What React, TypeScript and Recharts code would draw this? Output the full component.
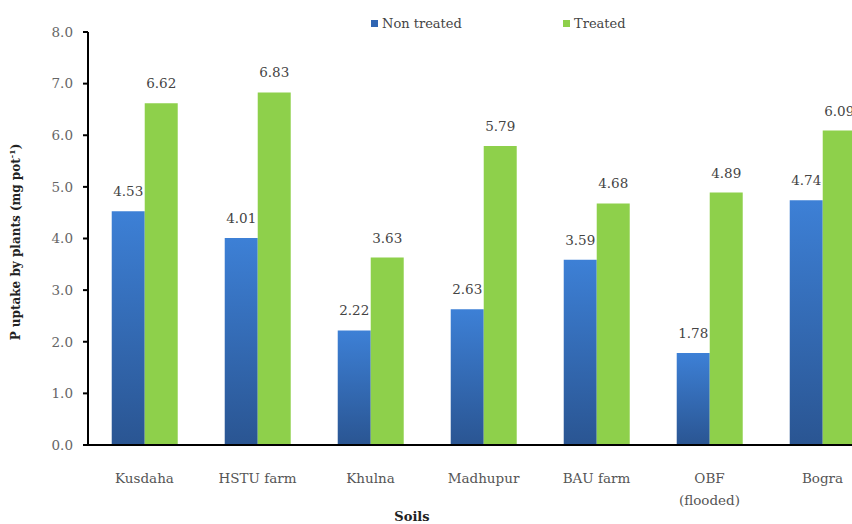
import { BarChart, Bar, XAxis, YAxis, Legend, LabelList } from "recharts";

const SOILS = ["Kusdaha", "HSTU farm", "Khulna", "Madhupur", "BAU farm", "OBF\n(flooded)", "Bogra"];
const NON_TREATED = [4.53, 4.01, 2.22, 2.63, 3.59, 1.78, 4.74];
const TREATED = [6.62, 6.83, 3.63, 5.79, 4.68, 4.89, 6.09];
const Y_TICKS = [0, 1, 2, 3, 4, 5, 6, 7, 8];

const data = SOILS.map((soil, i) => ({
  soil,
  nonTreated: NON_TREATED[i],
  treated: TREATED[i],
}));

const FONT = "'DejaVu Serif', 'Liberation Serif', serif";
const GREEN = "#8ed04b";

function SoilTick({ x, y, payload }: any) {
  const lines = String(payload.value).split("\n");
  return (
    <text x={x} y={y + 30} textAnchor="middle" fontFamily={FONT} fontSize={13.5} fill="#555">
      {lines.map((line, i) => (
        <tspan key={i} x={x} dy={i === 0 ? 0 : 22}>
          {line}
        </tspan>
      ))}
    </text>
  );
}

function YTitle() {
  return (
    <text
      x={20}
      y={242}
      transform="rotate(-90, 20, 242)"
      textAnchor="middle"
      fontFamily={FONT}
      fontSize={12}
      fontWeight="bold"
      fill="#222"
    >
      P uptake by plants (mg pot
      <tspan dy={-5} fontSize={8}>-1</tspan>
      <tspan dy={5}>)</tspan>
    </text>
  );
}

function XTitle() {
  return (
    <text x={412} y={521} textAnchor="middle" fontFamily={FONT} fontSize={13} fontWeight="bold" fill="#222">
      Soils
    </text>
  );
}

function LegendBox() {
  const item = (color: string, text: string, left: number) => (
    <div style={{ position: "absolute", left, top: 0, display: "flex", alignItems: "center", whiteSpace: "nowrap" }}>
      <span style={{ width: 7, height: 7, background: color, marginRight: 4, display: "inline-block" }} />
      <span style={{ fontFamily: FONT, fontSize: 13, color: "#444" }}>{text}</span>
    </div>
  );
  return (
    <div style={{ position: "relative", width: 300, height: 18 }}>
      {item("#2f65b3", "Non treated", 0)}
      {item(GREEN, "Treated", 192)}
    </div>
  );
}

export default function App() {
  return (
    <div style={{ position: "fixed", left: 0, top: 0, width: 852, height: 524, overflow: "hidden", background: "#fff" }}>
      <BarChart
        width={880}
        height={530}
        data={data}
        margin={{ top: 32, right: 1, left: 20, bottom: 25 }}
        barGap={0}
        barCategoryGap="21%"
      >
        <defs>
          <linearGradient id="blueBar" x1="0" y1="0" x2="0" y2="1">
            <stop offset="0%" stopColor="#3d80d6" />
            <stop offset="100%" stopColor="#2a5592" />
          </linearGradient>
        </defs>
        <Legend
          verticalAlign="middle"
          align="center"
          wrapperStyle={{ top: 16, left: 371, width: 300 }}
          content={() => <LegendBox />}
        />
        <XAxis
          dataKey="soil"
          height={60}
          tickLine={false}
          axisLine={{ stroke: "#000", strokeWidth: 2 }}
          tick={<SoilTick />}
          interval={0}
          label={{ content: () => <XTitle /> }}
        />
        <YAxis
          width={68}
          domain={[0, 8]}
          ticks={Y_TICKS}
          tickFormatter={(v: number) => v.toFixed(1)}
          axisLine={{ stroke: "#000", strokeWidth: 2 }}
          tickLine={{ stroke: "#000", strokeWidth: 2 }}
          tickSize={5}
          tickMargin={10}
          tick={{ fontFamily: FONT, fontSize: 13.5, fill: "#666" }}
          label={{ content: () => <YTitle /> }}
        />
        <Bar dataKey="nonTreated" name="Non treated" fill="url(#blueBar)" isAnimationActive={false}>
          <LabelList dataKey="nonTreated" position="top" offset={15} fontFamily={FONT} fontSize={13.5} fill="#444" />
        </Bar>
        <Bar dataKey="treated" name="Treated" fill={GREEN} isAnimationActive={false}>
          <LabelList dataKey="treated" position="top" offset={15} fontFamily={FONT} fontSize={13.5} fill="#444" />
        </Bar>
      </BarChart>
    </div>
  );
}
